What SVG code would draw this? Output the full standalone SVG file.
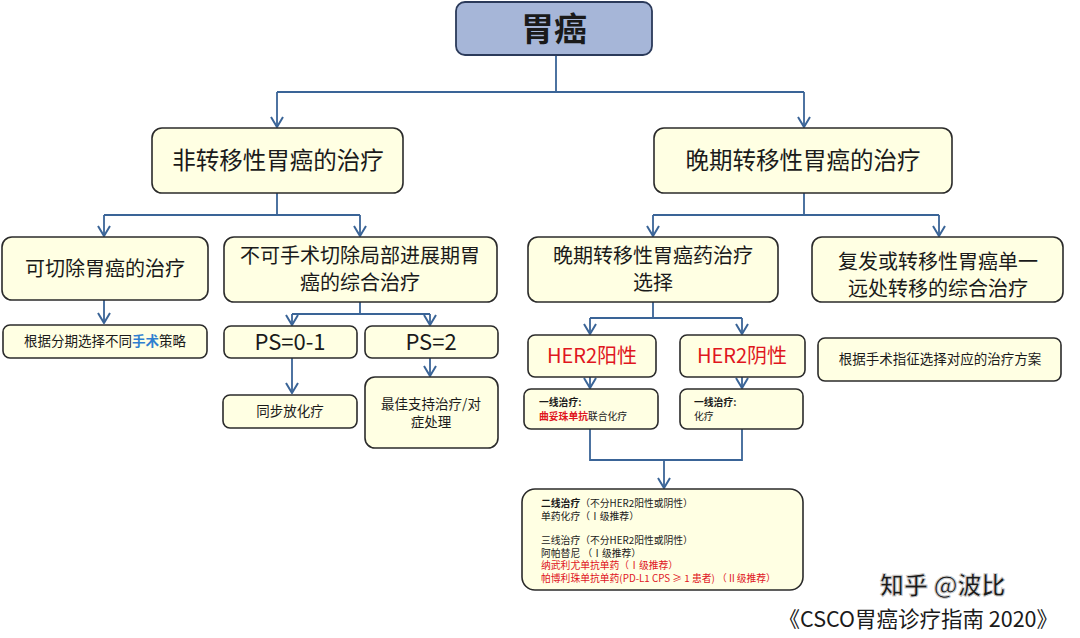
<svg xmlns="http://www.w3.org/2000/svg" width="1080" height="638" viewBox="0 0 1080 638">
<defs>
<marker id="arrd" viewBox="0 0 14 14" refX="7" refY="13" markerWidth="14" markerHeight="14" markerUnits="userSpaceOnUse" orient="0">
<path d="M1,3 L7,13 L13,3" fill="none" stroke="#3A6497" stroke-width="2"/>
</marker>
</defs>
<style>
text{font-family:"Noto Sans CJK SC","Noto Sans",sans-serif;fill:#1a1a1a}
.box{fill:#FFFFE3;stroke:#2b2b2b;stroke-width:1.6}
.c{stroke:#3A6497;stroke-width:1.8;fill:none}
.a{marker-end:url(#arrd)}
.t24{font-size:23.5px;text-anchor:middle}
.t20{font-size:20px;text-anchor:middle}
.tps{font-size:22px;text-anchor:middle}
.t13{font-size:13.5px;text-anchor:middle}
.red{fill:#E0161E}
.sm{font-size:9.8px}
</style>
<rect width="1080" height="638" fill="#ffffff"/>

<g id="connectors">
<path class="c" d="M556,55 V92 M277,92 H804"/>
<path class="c a" d="M277,92 V127"/>
<path class="c a" d="M804,92 V127"/>
<path class="c" d="M277,193 V215 M104,215 H360"/>
<path class="c a" d="M104,215 V236"/>
<path class="c a" d="M360,215 V236"/>
<path class="c a" d="M104,300 V323"/>
<path class="c" d="M360,302 V314 M292,314 H430"/>
<path class="c a" d="M292,314 V325"/>
<path class="c a" d="M430,314 V325"/>
<path class="c a" d="M292,358 V393"/>
<path class="c a" d="M430,358 V376"/>
<path class="c" d="M804,193 V215 M653,215 H939"/>
<path class="c a" d="M653,215 V236"/>
<path class="c a" d="M939,215 V236"/>
<path class="c" d="M653,302 V318 M590,318 H742"/>
<path class="c a" d="M590,318 V334"/>
<path class="c a" d="M742,318 V334"/>
<path class="c a" d="M590,377 V388"/>
<path class="c a" d="M742,377 V388"/>
<path class="c" d="M590,429 V460 H742 V429"/>
<path class="c a" d="M664,460 V488"/>
</g>

<g id="n-root">
<rect x="456" y="2" width="196" height="53" rx="9" fill="#A6B6D8" stroke="#2b3a5a" stroke-width="1.8"/>
<text x="554" y="41" font-size="33" font-weight="bold" text-anchor="middle" fill="#111">胃癌</text>
</g>

<g id="n-nonmeta">
<rect class="box" x="152" y="128" width="251" height="65" rx="10"/>
<text class="t24" x="278" y="169">非转移性胃癌的治疗</text>
</g>

<g id="n-meta">
<rect class="box" x="654" y="128" width="298" height="65" rx="10"/>
<text class="t24" x="803" y="169">晚期转移性胃癌的治疗</text>
</g>

<g id="n-resect">
<rect class="box" x="2" y="237" width="206" height="63" rx="10"/>
<text class="t20" x="105" y="276">可切除胃癌的治疗</text>
</g>

<g id="n-unresect">
<rect class="box" x="224" y="237" width="273" height="65" rx="10"/>
<text class="t20" x="360" y="263">不可手术切除局部进展期胃</text>
<text class="t20" x="360" y="290">癌的综合治疗</text>
</g>

<g id="n-stage">
<rect class="box" x="3" y="325" width="204" height="33" rx="7"/>
<text class="t13" x="105" y="346">根据分期选择不同<tspan fill="#2F7FD0" font-weight="bold">手术</tspan>策略</text>
</g>

<g id="n-ps01">
<rect class="box" x="224" y="326" width="133" height="32" rx="7"/>
<text class="tps" x="290" y="350">PS=0-1</text>
</g>

<g id="n-ps2">
<rect class="box" x="365" y="326" width="133" height="32" rx="7"/>
<text class="tps" x="431" y="350">PS=2</text>
</g>

<g id="n-chemorad">
<rect class="box" x="223" y="395" width="134" height="33" rx="7"/>
<text class="t13" x="290" y="416">同步放化疗</text>
</g>

<g id="n-support">
<rect class="box" x="365" y="377" width="133" height="71" rx="10"/>
<text class="t13" x="431" y="409">最佳支持治疗/对</text>
<text class="t13" x="431" y="427">症处理</text>
</g>

<g id="n-drug">
<rect class="box" x="528" y="237" width="250" height="65" rx="10"/>
<text class="t20" x="653" y="263">晚期转移性胃癌药治疗</text>
<text class="t20" x="653" y="290">选择</text>
</g>

<g id="n-recur">
<rect class="box" x="812" y="237" width="251" height="65" rx="10"/>
<text class="t20" x="938" y="269">复发或转移性胃癌单一</text>
<text class="t20" x="938" y="296">远处转移的综合治疗</text>
</g>

<g id="n-surgery">
<rect class="box" x="818" y="338" width="243" height="43" rx="7"/>
<text class="t13" x="940" y="364">根据手术指征选择对应的治疗方案</text>
</g>

<g id="n-herpos">
<rect class="box" x="528" y="335" width="128" height="42" rx="7"/>
<text class="t20 red" x="592" y="363">HER2阳性</text>
</g>

<g id="n-herneg">
<rect class="box" x="680" y="335" width="125" height="42" rx="7"/>
<text class="t20 red" x="742" y="363">HER2阴性</text>
</g>

<g id="n-first-pos">
<rect class="box" x="524" y="389" width="134" height="40" rx="7"/>
<text class="sm" x="539" y="406" font-weight="bold">一线治疗:</text>
<text class="sm" x="539" y="420"><tspan class="red" font-weight="bold">曲妥珠单抗</tspan>联合化疗</text>
</g>

<g id="n-first-neg">
<rect class="box" x="680" y="389" width="123" height="40" rx="7"/>
<text class="sm" x="694" y="406" font-weight="bold">一线治疗:</text>
<text class="sm" x="694" y="420">化疗</text>
</g>

<g id="n-later">
<rect class="box" x="522" y="489" width="281" height="101" rx="13"/>
<text class="sm" x="541" y="507"><tspan font-weight="bold">二线治疗</tspan>（不分HER2阳性或阴性）</text>
<text class="sm" x="541" y="520">单药化疗（Ⅰ级推荐）</text>
<text class="sm" x="541" y="544">三线治疗（不分HER2阳性或阴性）</text>
<text class="sm" x="541" y="556.5">阿帕替尼 （Ⅰ级推荐）</text>
<text class="sm red" x="541" y="569">纳武利尤单抗单药（Ⅰ级推荐）</text>
<text class="sm red" x="541" y="581.5">帕博利珠单抗单药(PD-L1 CPS ≥ 1 患者) （Ⅱ级推荐）</text>
</g>

<g id="watermark">
<text x="880" y="594" font-size="24" fill="#ffffff" stroke="#cfcfcf" stroke-width="1" font-weight="bold">知乎 @波比</text>
</g>

<g id="caption">
<text x="1058" y="627" font-size="21.5" text-anchor="end" fill="#111">《CSCO胃癌诊疗指南 2020》</text>
</g>
</svg>
